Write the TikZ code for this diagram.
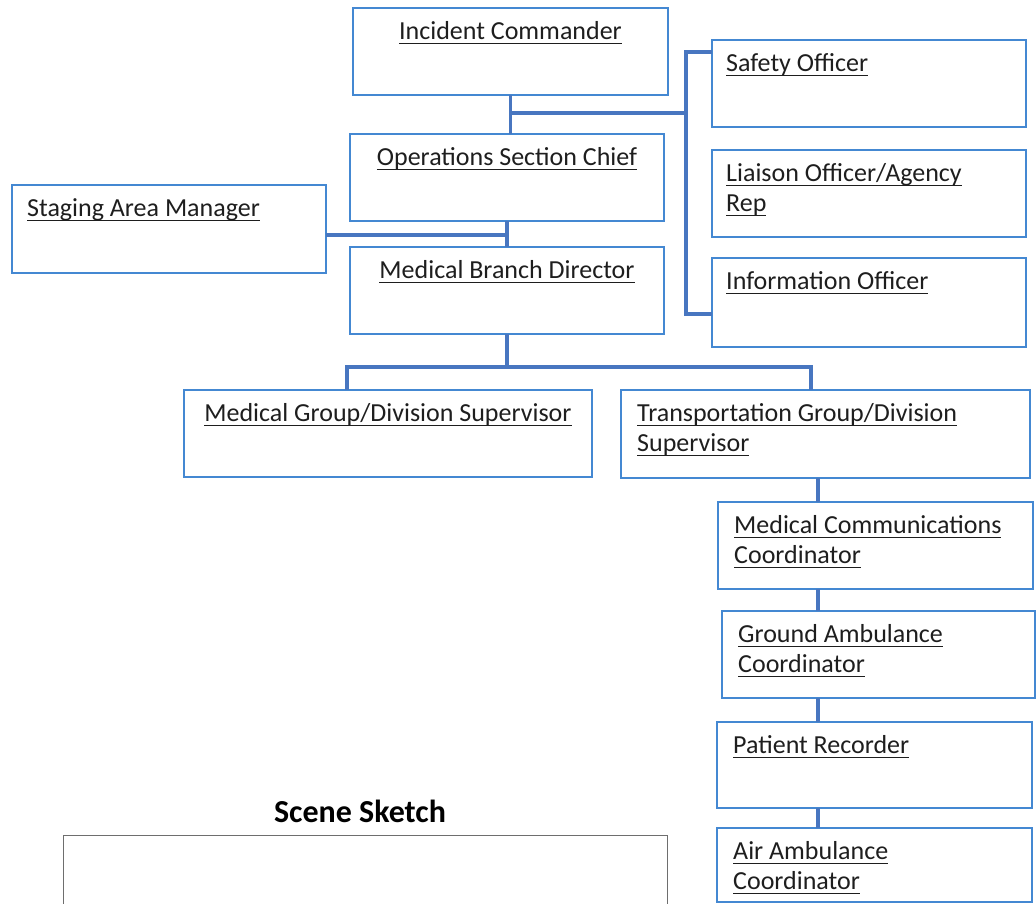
\documentclass[tikz,border=0pt]{standalone}
\usepackage{fontspec}
\setmainfont{Carlito}
\usetikzlibrary{positioning}

\definecolor{boxblue}{RGB}{68,136,210}
\definecolor{linkblue}{RGB}{72,118,192}
\definecolor{inkgray}{RGB}{30,30,30}
\definecolor{sketchgray}{RGB}{110,110,110}

\newcommand\ulabel[1]{\setbox0\hbox{#1}\rlap{\rule[-4.5pt]{\wd0}{1.2pt}}\box0\strut}

\begin{document}
\begin{tikzpicture}[
    x=1pt, y=-1pt,
    box/.style={draw=boxblue, line width=2.1pt, anchor=north west, inner sep=0pt, outer sep=0pt, minimum width=315pt, minimum height=87pt},
    boxtext/.style={inner sep=0pt, align=left, text=inkgray, font=\fontsize{26}{30}\selectfont},
    sketchbox/.style={draw=sketchgray, line width=1.3pt, anchor=north west, inner sep=0pt, minimum width=604pt, minimum height=90pt},
    link/.style={draw=linkblue, line width=3.2pt},
]

\useasboundingbox (0,0) rectangle (1036,903);

% Boxes
\node[box] (ic) at (353,8) {};
\node[box, minimum width=314pt] (so) at (712,40) {};
\node[box, minimum width=314pt] (lo) at (712,150) {};
\node[box, minimum width=314pt, minimum height=89pt] (io) at (712,258) {};
\node[box, minimum width=314pt] (osc) at (350,134) {};
\node[box, minimum width=314pt, minimum height=88pt] (sam) at (12,185) {};
\node[box, minimum width=314pt] (mbd) at (350,247) {};
\node[box, minimum width=408pt] (mgds) at (184,390) {};
\node[box, minimum width=409pt, minimum height=88pt] (tgds) at (621,390) {};
\node[box] (mcc) at (718,502) {};
\node[box, minimum width=313pt] (gac) at (722,611) {};
\node[box, minimum height=86pt] (pr) at (717,722) {};
\node[box, minimum height=74pt] (aac) at (717,828) {};
\node[sketchbox] (sketch) at (63,835) {};

% Box texts
\node[boxtext, below=10pt of ic.north] (ictext) {\ulabel{Incident Commander}};
\node[boxtext, below right=10pt and 14pt of so.north west] (sotext) {\ulabel{Safety Officer}};
\node[boxtext, below right=10pt and 14pt of lo.north west] (lotext) {\ulabel{Liaison Officer/Agency}\\\ulabel{Rep}};
\node[boxtext, below right=10pt and 14pt of io.north west] (iotext) {\ulabel{Information Officer}};
\node[boxtext, below=10pt of osc.north] (osctext) {\ulabel{Operations Section Chief}};
\node[boxtext, below right=10pt and 15pt of sam.north west] (samtext) {\ulabel{Staging Area Manager}};
\node[boxtext, below=10pt of mbd.north] (mbdtext) {\ulabel{Medical Branch Director}};
\node[boxtext, below=10pt of mgds.north] (mgdstext) {\ulabel{Medical Group/Division Supervisor}};
\node[boxtext, below right=10pt and 16pt of tgds.north west] (tgdstext) {\ulabel{Transportation Group/Division}\\\ulabel{Supervisor}};
\node[boxtext, below right=10pt and 16pt of mcc.north west] (mcctext) {\ulabel{Medical Communications}\\\ulabel{Coordinator}};
\node[boxtext, below right=10pt and 16pt of gac.north west] (gactext) {\ulabel{Ground Ambulance}\\\ulabel{Coordinator}};
\node[boxtext, below right=10pt and 16pt of pr.north west] (prtext) {\ulabel{Patient Recorder}};
\node[boxtext, below right=10pt and 16pt of aac.north west] (aactext) {\ulabel{Air Ambulance}\\\ulabel{Coordinator}};
\node[anchor=base, inner sep=0pt, font=\bfseries\fontsize{32}{38}\selectfont] (sketchtitle) at (360,822) {Scene Sketch};

% Command staff
\coordinate (staffbus) at (686,113);
\draw[link] (ic.south) -- (osc.north -| ic.south);
\draw[link] (ic.south |- staffbus) -- (staffbus);
\draw[link] ([yshift=-12pt]so.north west) -| (staffbus) |- ([yshift=-56pt]io.north west);

% Operations
\coordinate (stagejoin) at (507,235);
\draw[link] (osc.south) -- (mbd.north);
\draw[link] (sam.east |- stagejoin) -- (stagejoin);

% Branch
\coordinate (branchbus) at (507,367);
\draw[link] (mbd.south) -- (branchbus);
\draw[link] ([xshift=-41pt]mgds.north) |- (branchbus) -| ([xshift=-14.5pt]tgds.north);

% Transportation chain
\coordinate (chain) at (818,0);
\draw[link] (tgds.south -| chain) -- (mcc.north -| chain);
\draw[link] (mcc.south -| chain) -- (gac.north -| chain);
\draw[link] (gac.south -| chain) -- (pr.north -| chain);
\draw[link] (pr.south -| chain) -- (aac.north -| chain);

\end{tikzpicture}
\end{document}
